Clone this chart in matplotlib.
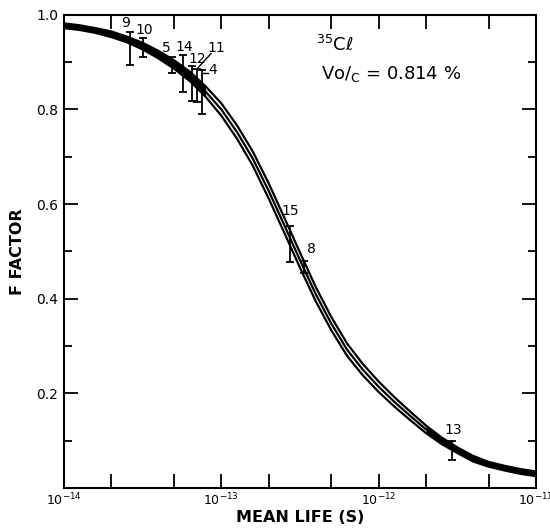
import matplotlib
matplotlib.use('Agg')
import matplotlib.pyplot as plt
from matplotlib.ticker import FixedLocator, NullFormatter

plt.rcParams['font.family'] = 'DejaVu Sans'
plt.rcParams['mathtext.default'] = 'regular'

# F factor curves (middle and the two outer curves)
tau = [1.0e-14, 1.26e-14, 1.58e-14, 2.0e-14, 2.51e-14, 3.16e-14, 3.98e-14, 5.01e-14,
       6.31e-14, 7.94e-14, 1.0e-13, 1.26e-13, 1.58e-13, 2.0e-13, 2.51e-13, 3.16e-13,
       3.98e-13, 5.01e-13, 6.31e-13, 7.94e-13, 1.0e-12, 1.26e-12, 1.58e-12, 2.0e-12,
       2.51e-12, 3.16e-12, 3.98e-12, 5.01e-12, 6.31e-12, 7.94e-12, 1.0e-11]
f_mid = [0.977, 0.973, 0.967, 0.959, 0.948, 0.934, 0.916, 0.895, 0.870, 0.838, 0.800,
         0.752, 0.697, 0.628, 0.556, 0.482, 0.410, 0.347, 0.292, 0.250, 0.214,
         0.182, 0.153, 0.124, 0.100, 0.080, 0.062, 0.050, 0.042, 0.035, 0.030]
f_upper = [0.982, 0.978, 0.972, 0.965, 0.954, 0.941, 0.924, 0.904, 0.880, 0.849, 0.813,
           0.766, 0.712, 0.644, 0.572, 0.498, 0.425, 0.361, 0.305, 0.262, 0.225,
           0.192, 0.162, 0.132, 0.107, 0.086, 0.068, 0.055, 0.047, 0.040, 0.035]
f_lower = [0.972, 0.968, 0.962, 0.953, 0.942, 0.927, 0.908, 0.886, 0.860, 0.827, 0.787,
           0.738, 0.682, 0.612, 0.540, 0.466, 0.395, 0.333, 0.279, 0.238, 0.203,
           0.172, 0.144, 0.116, 0.093, 0.074, 0.056, 0.045, 0.037, 0.030, 0.025]

# measured points
pt_labels = ['9', '10', '5', '14', '12', '11', '4', '15', '8', '13']
pt_tau = [2.63e-14, 3.19e-14, 4.87e-14, 5.7e-14, 6.54e-14, 7.0e-14, 7.57e-14, 2.75e-13, 3.33e-13, 2.92e-12]
pt_f = [0.929, 0.932, 0.895, 0.877, 0.855, 0.850, 0.837, 0.516, 0.467, 0.079]
pt_err = [0.035, 0.020, 0.017, 0.039, 0.037, 0.035, 0.047, 0.038, 0.012, 0.020]

# label positions
lab_tau = [2.45e-14, 3.25e-14, 4.5e-14, 5.85e-14, 7.0e-14, 9.3e-14, 8.8e-14, 2.75e-13, 3.74e-13, 3.0e-12]
lab_f = [0.983, 0.968, 0.931, 0.933, 0.906, 0.931, 0.883, 0.585, 0.505, 0.122]

fig = plt.figure(figsize=(5.5, 5.31), dpi=100)
ax = fig.add_axes([0.1164, 0.081, 0.858, 0.891])

for f in (f_upper, f_mid, f_lower):
    ax.plot(tau, f, color='black', lw=1.6)
# the curves merge into a solid band at both ends
ax.fill_between(tau[:10], f_lower[:10], f_upper[:10], color='black', lw=0)
ax.fill_between(tau[23:], f_lower[23:], f_upper[23:], color='black', lw=0)

ax.errorbar(pt_tau, pt_f, yerr=pt_err, fmt='none', ecolor='black',
            elinewidth=1.3, capsize=3, capthick=1.3)

for lab, x, y in zip(pt_labels, lab_tau, lab_f):
    ax.text(x, y, lab, fontsize=10, ha='center', va='center')

# leader lines for 11 and 4
ax.plot([8.6e-14, 7.1e-14], [0.918, 0.888], color='black', lw=1)
ax.plot([7.7e-14, 8.2e-14], [0.877, 0.877], color='black', lw=1)

ax.text(5.3e-13, 0.937, r'$^{35}$C$\ell$', fontsize=13, ha='center', va='center')
ax.text(1.2e-12, 0.874, r'$Vo/_{C}$ = 0.814 %', fontsize=13, ha='center', va='center')

ax.set_xscale('log')
ax.set_xlim(1e-14, 1e-11)
ax.set_ylim(0, 1.0)

ax.xaxis.set_major_locator(FixedLocator([1e-14, 1e-13, 1e-12, 1e-11]))
ax.xaxis.set_minor_locator(FixedLocator([2e-14, 5e-14, 2e-13, 5e-13, 2e-12, 5e-12]))
ax.set_xticklabels(['10$^{-14}$', '10$^{-13}$', '10$^{-12}$', '10$^{-11}$'])
ax.xaxis.set_minor_formatter(NullFormatter())
ax.yaxis.set_major_locator(FixedLocator([0.2, 0.4, 0.6, 0.8, 1.0]))
ax.yaxis.set_minor_locator(FixedLocator([0.1, 0.3, 0.5, 0.7, 0.9]))
ax.set_yticklabels(['0.2', '0.4', '0.6', '0.8', '1.0'])

ax.tick_params(which='both', direction='in', top=True, right=True, width=1.3)
ax.tick_params(axis='x', labelsize=9, pad=3)
ax.tick_params(axis='y', labelsize=10, pad=4)
ax.tick_params(which='major', length=10)
ax.tick_params(which='minor', length=6)
ax.tick_params(axis='x', which='minor', length=10)
for s in ax.spines.values():
    s.set_linewidth(1.5)

ax.set_xlabel('MEAN LIFE (S)', fontsize=11.5, fontweight='bold', labelpad=1)
ax.set_ylabel('F FACTOR', fontsize=11.5, fontweight='bold', labelpad=8)

fig.savefig('out.png', dpi=100)
